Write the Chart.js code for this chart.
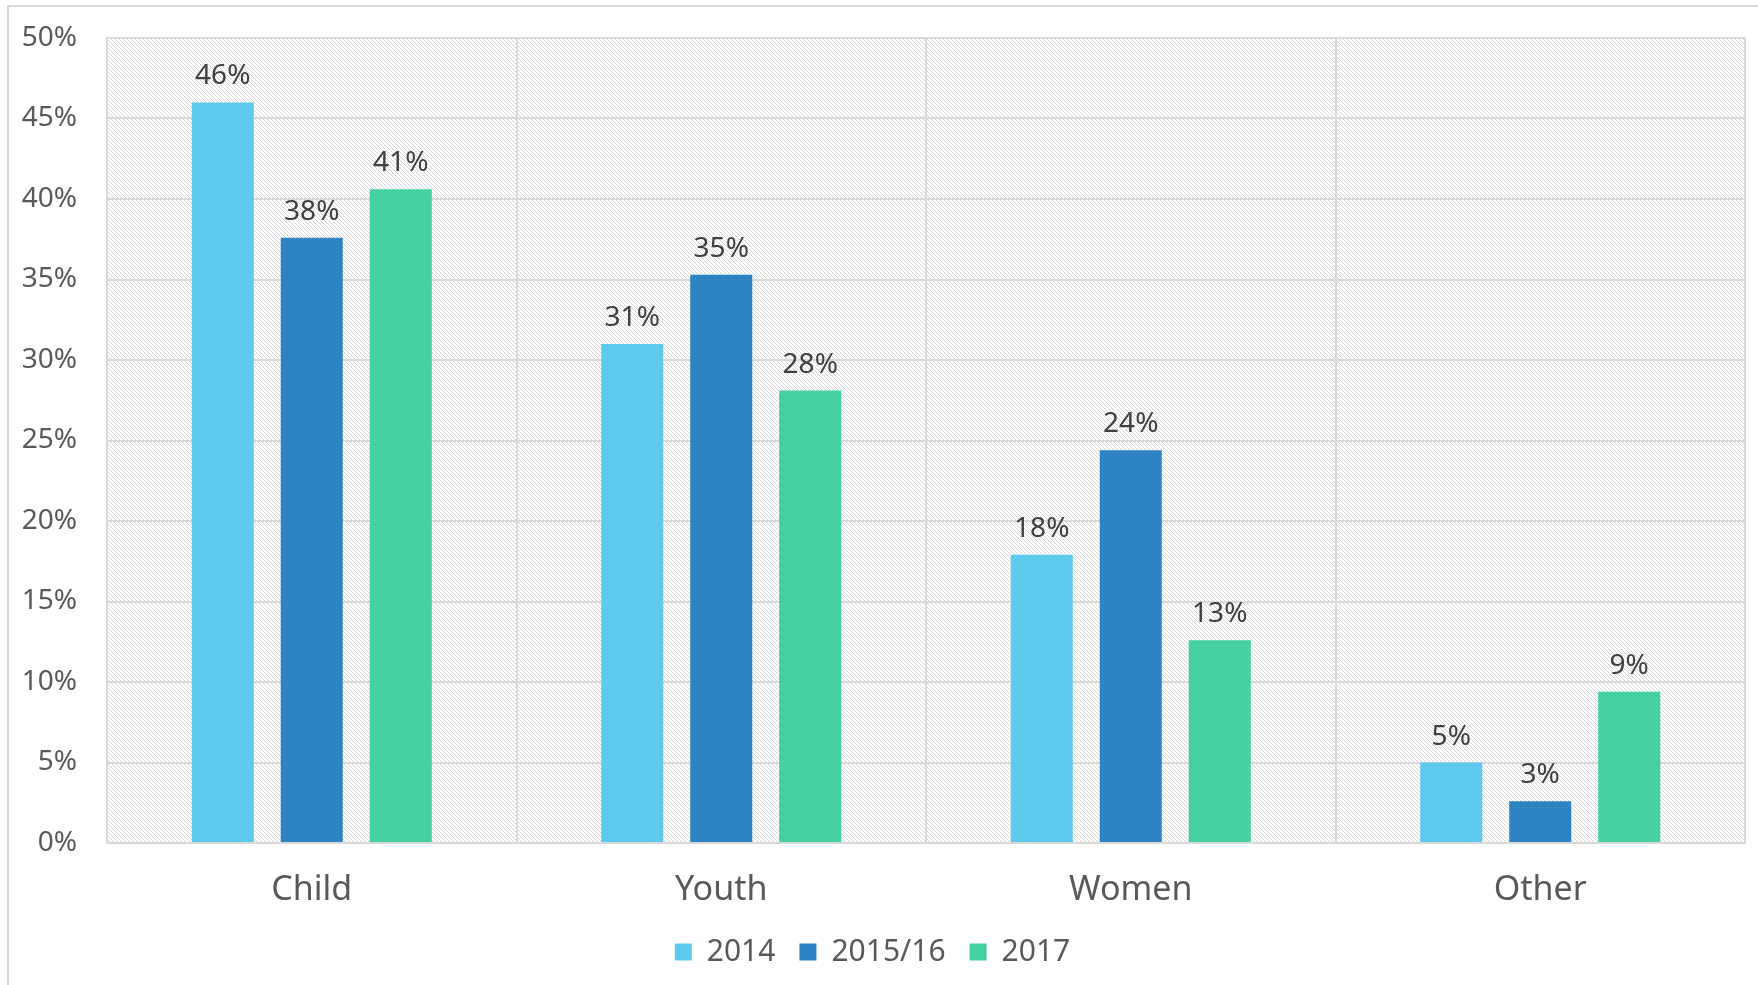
<!DOCTYPE html>
<html lang="en">
<head>
    <meta charset="UTF-8">
    <title>Share by group</title>
    <script src="https://cdn.jsdelivr.net/npm/chart.js"></script>
    <style>
        body { margin: 0; background: #fff; }
        canvas { display: block; }
    </style>
</head>
<body>
    <canvas id="groupChart" width="1758" height="985"></canvas>

    <script>
        const categories = ['Child', 'Youth', 'Women', 'Other'];
        const seriesNames = ['2014', '2015/16', '2017'];
        const values2014 = [46.0, 31.0, 17.9, 5.0];
        const values2015 = [37.6, 35.3, 24.4, 2.6];
        const values2017 = [40.6, 28.1, 12.6, 9.4];
        const seriesColors = ['#5ecbee', '#2e83c3', '#44d0a0'];

        const FONT = '"Noto Sans", sans-serif';

        // diagonal hatch used behind the bars
        function makeHatch() {
            const c = document.createElement('canvas');
            c.width = 8;
            c.height = 8;
            const g = c.getContext('2d');
            g.fillStyle = '#ffffff';
            g.fillRect(0, 0, 8, 8);
            g.fillStyle = '#d6d6d6';
            for (let y = 0; y < 8; y++) {
                for (let x = 0; x < 8; x++) {
                    if ((x - y + 8) % 4 === 0) g.fillRect(x, y, 1, 1);
                }
            }
            return c;
        }

        const backdrop = {
            id: 'backdrop',
            beforeDraw(chart) {
                const ctx = chart.ctx;
                const a = chart.chartArea;
                ctx.save();
                // outer frame
                ctx.strokeStyle = '#d9d9d9';
                ctx.lineWidth = 2;
                ctx.beginPath();
                ctx.moveTo(8, chart.height);
                ctx.lineTo(8, 6);
                ctx.lineTo(chart.width, 6);
                ctx.stroke();
                // hatched plot area
                ctx.fillStyle = ctx.createPattern(makeHatch(), 'repeat');
                ctx.fillRect(a.left, a.top, a.right - a.left, a.bottom - a.top);
                ctx.restore();
            }
        };

        const valueLabels = {
            id: 'valueLabels',
            afterDatasetsDraw(chart) {
                const ctx = chart.ctx;
                ctx.save();
                ctx.font = '28px ' + FONT;
                ctx.fillStyle = '#404040';
                ctx.textAlign = 'center';
                ctx.textBaseline = 'alphabetic';
                chart.data.datasets.forEach((ds, i) => {
                    chart.getDatasetMeta(i).data.forEach((bar, j) => {
                        ctx.fillText(Math.round(ds.data[j]) + '%', bar.x, bar.y - 18);
                    });
                });
                ctx.restore();
            }
        };

        const datasets = [values2014, values2015, values2017].map((vals, i) => ({
            label: seriesNames[i],
            data: vals,
            backgroundColor: seriesColors[i],
            borderWidth: 0,
            categoryPercentage: 0.652,
            barPercentage: 0.697
        }));

        const ctx = document.getElementById('groupChart').getContext('2d');
        new Chart(ctx, {
            type: 'bar',
            data: { labels: categories, datasets: datasets },
            plugins: [backdrop, valueLabels],
            options: {
                responsive: false,
                animation: false,
                layout: { padding: { top: 38, right: 13, left: 0, bottom: 8 } },
                plugins: {
                    tooltip: { enabled: false },
                    legend: {
                        position: 'bottom',
                        labels: {
                            boxWidth: 17,
                            boxHeight: 17,
                            padding: 24,
                            color: '#595959',
                            font: { family: FONT, size: 30 }
                        }
                    }
                },
                scales: {
                    x: {
                        grid: { color: '#d9d9d9', lineWidth: 2, drawTicks: false },
                        border: { color: '#d9d9d9', width: 2 },
                        ticks: {
                            color: '#595959',
                            padding: 27,
                            font: { family: FONT, size: 34 }
                        },
                        afterFit(scale) { scale.height = 70; }
                    },
                    y: {
                        min: 0,
                        max: 50,
                        grid: {
                            color: '#d9d9d9',
                            lineWidth: 2,
                            drawTicks: true,
                            tickLength: 30,
                            tickColor: 'rgba(0,0,0,0)'
                        },
                        border: { color: '#d9d9d9', width: 2 },
                        ticks: {
                            stepSize: 5,
                            color: '#595959',
                            padding: 0,
                            font: { family: FONT, size: 28 },
                            callback: v => v + '%'
                        },
                        afterFit(scale) { scale.width = 107; }
                    }
                }
            }
        });
    </script>
</body>
</html>
